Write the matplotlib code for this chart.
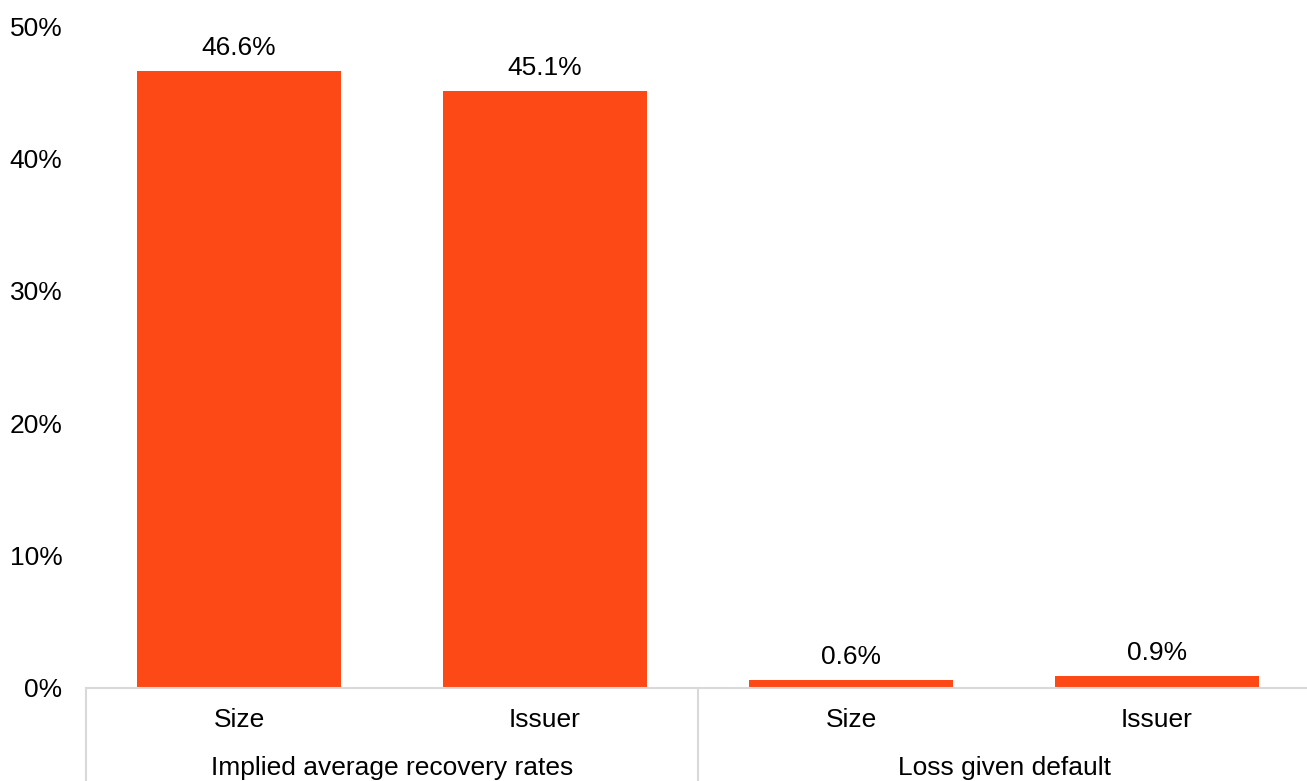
import matplotlib.pyplot as plt
from matplotlib.transforms import blended_transform_factory

plt.rcParams['font.family'] = ['Liberation Sans', 'DejaVu Sans']

groups = ['Implied average recovery rates', 'Loss given default']
labels = ['Size', 'Issuer', 'Size', 'Issuer']
values = [46.6, 45.1, 0.6, 0.9]
yticks = [0, 10, 20, 30, 40, 50]

bar_color = '#FC4915'
line_color = '#D9D9D9'
fs = 19

fig = plt.figure(figsize=(13.07, 7.81), dpi=100)
ax = fig.add_axes([0.0658, 0.1191, 0.9365, 0.8476])

x = list(range(len(values)))
bars = ax.bar(x, values, width=0.667, color=bar_color, zorder=2)

for xi, v in zip(x, values):
    ax.annotate(f'{v:.1f}%', (xi, v), xytext=(0, 8), textcoords='offset points',
                ha='center', va='bottom', fontsize=fs)

ax.set_xlim(-0.5, len(values) - 0.5)
ax.set_ylim(0, 50)
ax.set_yticks(yticks)
ax.set_yticklabels([f'{t}%' for t in yticks], fontsize=fs)
ax.tick_params(axis='y', length=0, pad=17)
ax.set_xticks([])

for s in ['top', 'right', 'left']:
    ax.spines[s].set_visible(False)
ax.spines['bottom'].set_color(line_color)
ax.spines['bottom'].set_linewidth(1.5)

# two-level category axis below the plot
trans = blended_transform_factory(ax.transData, ax.transAxes)
for xi, lab in zip(x, labels):
    ax.text(xi, -0.048, lab, transform=trans, ha='center', va='center', fontsize=fs)
for gi, g in enumerate(groups):
    ax.text(2 * gi + 0.5, -0.121, g, transform=trans, ha='center', va='center', fontsize=fs)
for sep in [-0.5, 1.5, 3.5]:
    ax.plot([sep, sep], [0, -0.16], transform=trans, color=line_color,
            linewidth=1.5, clip_on=False)

fig.savefig('out.png', dpi=100)
